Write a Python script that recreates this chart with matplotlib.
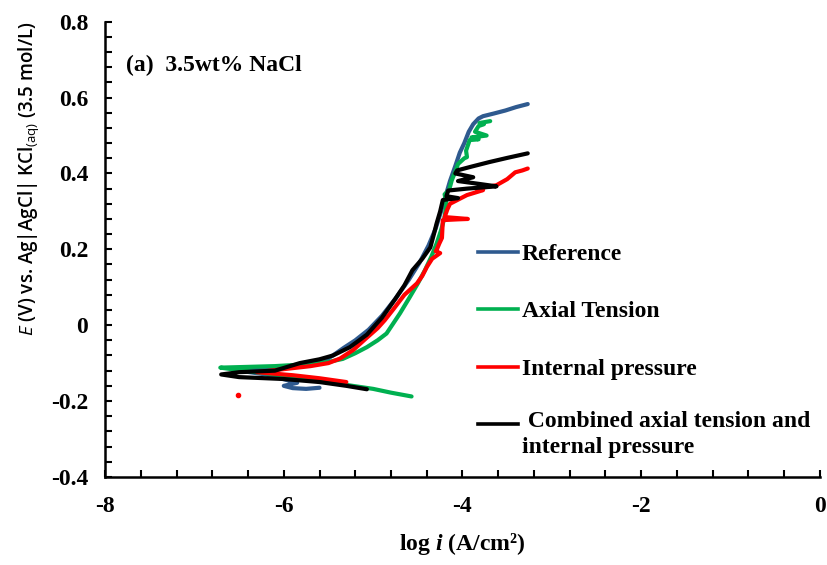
import matplotlib
matplotlib.use("Agg")
import matplotlib.pyplot as plt
from matplotlib.ticker import MultipleLocator

# ---- data (log i, E) ----
ref_x = [-5.6, -5.75, -5.9, -6.0, -5.85, -6.2, -6.5, -6.2, -5.85, -5.55, -5.42, -5.33, -5.2,
         -5.05, -4.9, -4.75, -4.6, -4.48, -4.38, -4.3, -4.24, -4.19, -4.14, -4.08, -4.03,
         -3.98, -3.93, -3.88, -3.82, -3.77, -3.65, -3.52, -3.4, -3.27]
ref_y = [-0.165, -0.168, -0.166, -0.16, -0.152, -0.13, -0.12, -0.117, -0.108, -0.095, -0.075,
         -0.06, -0.04, -0.012, 0.025, 0.07, 0.12, 0.165, 0.21, 0.255, 0.3, 0.34, 0.38, 0.42,
         0.455, 0.48, 0.51, 0.53, 0.545, 0.551, 0.558, 0.566, 0.575, 0.583]

ten_x = [-4.57, -4.8, -5.0, -5.26, -5.5, -5.75, -6.01, -6.3, -6.55, -6.71, -6.4, -6.1, -5.8,
         -5.5, -5.34, -5.2, -5.07, -4.95, -4.85, -4.7, -4.6, -4.5, -4.42, -4.35, -4.29,
         -4.24, -4.2, -4.18, -4.2, -4.15, -4.12, -4.08, -4.05, -3.98, -3.95, -3.96, -3.92,
         -3.82, -3.9, -3.73, -3.86, -3.82, -3.76, -3.81, -3.69]
ten_y = [-0.188, -0.178, -0.168, -0.159, -0.148, -0.14, -0.133, -0.124, -0.117, -0.112, -0.11,
         -0.108, -0.104, -0.097, -0.089, -0.074, -0.058, -0.04, -0.022, 0.031, 0.07, 0.11,
         0.145, 0.18, 0.215, 0.25, 0.285, 0.32, 0.345, 0.356, 0.382, 0.405, 0.425, 0.44, 0.443,
         0.46, 0.488, 0.49, 0.495, 0.5, 0.51, 0.525, 0.53, 0.533, 0.538]

pres_x = [-5.3, -5.6, -5.9, -6.3, -6.0, -5.7, -5.5, -5.37, -5.22, -5.08, -4.95, -4.87, -4.78,
          -4.65, -4.51, -4.45, -4.40, -4.34, -4.25, -4.3, -4.29, -4.26, -4.23, -4.22, -4.05,
          -3.94, -4.2, -4.17, -4.14, -3.95, -3.77, -3.84, -3.62, -3.5, -3.41, -3.33, -3.27]
pres_y = [-0.15, -0.14, -0.132, -0.124, -0.116, -0.108, -0.1, -0.088, -0.065, -0.035, -0.008,
          0.013, 0.04, 0.08, 0.11, 0.13, 0.153, 0.175, 0.19, 0.195, 0.198, 0.215, 0.23, 0.277,
          0.279, 0.28, 0.285, 0.305, 0.32, 0.343, 0.356, 0.36, 0.369, 0.385, 0.403, 0.408, 0.413]
pres_dot_x = [-6.51]
pres_dot_y = [-0.183]

comb_x = [-5.07, -5.3, -5.6, -6.0, -6.5, -6.7, -6.5, -6.1, -5.82, -5.6, -5.45, -5.26, -5.07,
          -4.9, -4.75, -4.65, -4.56, -4.45, -4.36, -4.32, -4.29, -4.25, -4.22, -4.05, -4.18,
          -4.16, -3.95, -3.62, -3.8, -4.05, -3.88, -4.08, -4.06, -3.9, -3.7, -3.5, -3.27]
comb_y = [-0.169, -0.16, -0.15, -0.142, -0.137, -0.13, -0.124, -0.12, -0.1, -0.09, -0.08,
          -0.058, -0.025, 0.02, 0.07, 0.105, 0.145, 0.175, 0.205, 0.24, 0.268, 0.3, 0.33,
          0.335, 0.34, 0.355, 0.36, 0.366, 0.372, 0.38, 0.39, 0.4, 0.408, 0.418, 0.43, 0.441,
          0.453]

series = [
    ("Reference", ref_x, ref_y, "#2f5a8f"),
    ("Axial Tension", ten_x, ten_y, "#00b050"),
    ("Internal pressure", pres_x, pres_y, "#ff0000"),
    (" Combined axial tension and\ninternal pressure", comb_x, comb_y, "#000000"),
]

xticks = [-8, -6, -4, -2, 0]
xtick_labels = ["-8", "-6", "-4", "-2", "0"]
yticks = [-0.4, -0.2, 0, 0.2, 0.4, 0.6, 0.8]
ytick_labels = ["-0.4", "-0.2", "0", "0.2", "0.4", "0.6", "0.8"]

plt.rcParams["mathtext.fontset"] = "custom"
plt.rcParams["mathtext.it"] = "Open Sans:italic"
plt.rcParams["mathtext.sf"] = "Open Sans"
plt.rcParams["mathtext.bf"] = "Liberation Serif:italic:bold"
plt.rcParams["axes.unicode_minus"] = False

serif = dict(family="Liberation Serif", weight="bold")

fig = plt.figure(figsize=(8.27, 5.65), dpi=100)
ax = fig.add_axes([0.127, 0.156, 0.8645, 0.8055])

for name, xs, ys, col in series:
    ax.plot(xs, ys, color=col, lw=3.0, solid_joinstyle="round", solid_capstyle="round")
ax.plot(pres_dot_x, pres_dot_y, "o", color="#ff0000", ms=3)

ax.set_xlim(-8, 0)
ax.set_ylim(-0.4, 0.8)
ax.set_xticks(xticks)
ax.set_xticklabels(xtick_labels, fontsize=17, **serif)
ax.set_yticks(yticks)
ax.set_yticklabels(ytick_labels, fontsize=17, **serif)
ax.xaxis.set_minor_locator(MultipleLocator(0.4))
ax.yaxis.set_minor_locator(MultipleLocator(0.04))
ax.tick_params(which="both", direction="in", length=5, width=1.5, color="black")
ax.tick_params(axis="x", pad=14)
ax.tick_params(axis="y", pad=12)
for s in ["top", "right"]:
    ax.spines[s].set_visible(False)
for s in ["left", "bottom"]:
    ax.spines[s].set_linewidth(1.8)

ax.set_xlabel(r"log $\mathbf{i}$ (A/cm²)", fontsize=17, labelpad=10, **serif)
ax.set_ylabel(r"$\mathit{E}$ (V) vs. Ag|AgCl| KCl$_{\mathsf{(aq)}}$ (3.5 mol/L)",
              fontsize=13.5, family="Open Sans", weight="semibold")
ax.yaxis.set_label_coords(-0.088, 0.655)

ax.text(0.03, 0.905, "(a)  3.5wt% NaCl", transform=ax.transAxes, fontsize=17,
        va="center", **serif)

# legend drawn by hand to keep the two-line entry aligned like the original
leg_y = [0.494, 0.368, 0.241, 0.116]
for (name, xs, ys, col), yy in zip(series, leg_y):
    ax.plot([0.522, 0.578], [yy, yy], color=col, lw=2.6, transform=ax.transAxes, clip_on=False)
    t = ax.text(0.583, yy, name, transform=ax.transAxes, fontsize=17,
                linespacing=1.3, **serif)
    t.set_va("center_baseline" if "\n" not in name else "top")
    if "\n" in name:
        t.set_y(yy + 0.028)

fig.savefig("out.png", dpi=100)
